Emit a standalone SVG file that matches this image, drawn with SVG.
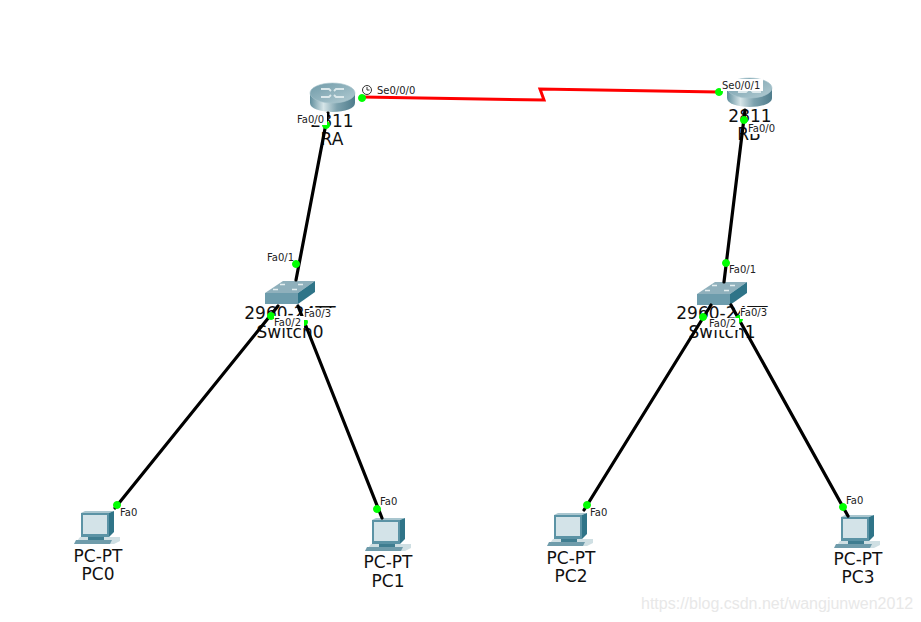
<svg xmlns="http://www.w3.org/2000/svg" width="921" height="622" viewBox="0 0 921 622">
<style>
.big{font-family:"DejaVu Sans","Liberation Sans",sans-serif;font-size:17px;fill:#111;text-anchor:middle}
.port{font-family:"DejaVu Sans","Liberation Sans",sans-serif;font-size:10px;fill:#222}
.box{fill:#fff}
.link{fill:none;stroke:#000;stroke-width:3.2;stroke-linecap:round}
.serial{fill:none;stroke:#f00;stroke-width:3;stroke-linejoin:miter}
.dot{fill:#0f0;stroke:#0f0}
.wm{font-family:"Liberation Sans",Arial,sans-serif;font-size:16px;fill:#e8e8e8}
</style>
<defs>
<linearGradient id="rb" x1="0" x2="1" y1="0" y2="0"><stop offset="0" stop-color="#5f8d9c"/><stop offset=".3" stop-color="#d6e5e8"/><stop offset=".6" stop-color="#7da2ae"/><stop offset="1" stop-color="#4f7c8c"/></linearGradient>
<linearGradient id="rt" x1="0" x2="1" y1="0" y2="1"><stop offset="0" stop-color="#6f9aa8"/><stop offset="1" stop-color="#b3ccd3"/></linearGradient>
<g id="router">
<path d="M0 10V20C0 25.500 10 29 22.500 29S45 25.500 45 20V10Z" fill="url(#rb)"/>
<ellipse cx="22.500" cy="10" rx="22.500" ry="10" fill="url(#rt)" stroke="#a8c4cc" stroke-width=".6"/>
<path d="M11 6h8l2 2M34 6h-8l-2 2M11 14h8l2-2M34 14h-8l-2-2" stroke="#dbe8eb" stroke-width="1.800" fill="none"/>
</g>
<g id="switch">
<path d="M0 12L18 0H50L33 12Z" fill="#8fb0bc"/>
<path d="M0 12H33V23H0Z" fill="#6d9cac"/>
<path d="M33 12L50 0V11L33 23Z" fill="#2f7488"/>
<path d="M15 3.500h5M33 3.500h5M8 8.500h5M27 8.500h5" stroke="#e4eef0" stroke-width="1.500"/>
</g>
<g id="pc">
<path d="M1 33L6 26H34L46 26L46 30L40 33Z" fill="#cfdfe3"/>
<path d="M2 29H38L36 33H0Z" fill="#6f9cab"/>
<path d="M7 2H35V26H7Z" fill="#5b93a5"/>
<path d="M7 2L11 0H40L35 2Z" fill="#a9c6cf"/>
<path d="M35 2L40 0V21L35 26Z" fill="#2f7488"/>
<path d="M9 4H33V23H9Z" fill="#d3e3e8"/>
<path d="M14 26H30V29H14Z" fill="#3f7d90"/>
</g>
</defs>
<rect width="921" height="622" fill="#fff"/>
<g id="RA"><use href="#router" x="310" y="83"/><text class="big" x="332" y="127">2811</text><text class="big" x="332" y="145">RA</text></g>
<g id="RB"><use href="#router" x="727" y="78"/><text class="big" x="750" y="122">2811</text><text class="big" x="749" y="140">RB</text></g>
<g id="Switch0"><use href="#switch" x="265" y="281"/><text class="big" x="290" y="319">2960-24TT</text><text class="big" x="290" y="338">Switch0</text></g>
<g id="Switch1"><use href="#switch" x="697" y="282"/><text class="big" x="722" y="319">2960-24TT</text><text class="big" x="722" y="338">Switch1</text></g>
<g id="PC0"><use href="#pc" x="74" y="511"/><text class="big" x="98" y="562">PC-PT</text><text class="big" x="98" y="580">PC0</text></g>
<g id="PC1"><use href="#pc" x="365" y="518"/><text class="big" x="388" y="568">PC-PT</text><text class="big" x="388" y="587">PC1</text></g>
<g id="PC2"><use href="#pc" x="547" y="513"/><text class="big" x="571" y="564">PC-PT</text><text class="big" x="571" y="582">PC2</text></g>
<g id="PC3"><use href="#pc" x="834" y="515"/><text class="big" x="858" y="565">PC-PT</text><text class="big" x="858" y="583">PC3</text></g>
<g id="connectors">
<path class="serial" d="M362 97L544 100L540 89L718 92"/>
<path class="link" d="M328 113L296 280"/>
<path class="link" d="M745 110L724 282"/>
<path class="link" d="M278 306L115 508"/>
<path class="link" d="M298 306L382 518"/>
<path class="link" d="M711 305L584 510"/>
<path class="link" d="M731 305L848 516"/>
<circle class="dot" cx="362" cy="98" r="3.500"/><circle class="dot" cx="719" cy="92" r="3.500"/>
<circle class="dot" cx="326" cy="125" r="3.500"/><circle class="dot" cx="744" cy="120" r="3.500"/>
<circle class="dot" cx="296" cy="264" r="3.500"/><circle class="dot" cx="726" cy="263" r="3.500"/>
<circle class="dot" cx="271" cy="316" r="3.500"/><circle class="dot" cx="304" cy="322" r="3.500"/>
<circle class="dot" cx="703" cy="317" r="3.500"/><circle class="dot" cx="739" cy="319" r="3.500"/>
<circle class="dot" cx="117" cy="505" r="3.500"/><circle class="dot" cx="377" cy="509" r="3.500"/>
<circle class="dot" cx="587" cy="505" r="3.500"/><circle class="dot" cx="843" cy="507" r="3.500"/>
</g>
<g id="labels">
<g fill="none" stroke="#333" stroke-width="1"><circle cx="367" cy="90" r="4.500"/><path d="M367 87v3h2.500"/></g>
<text class="port" x="377" y="94">Se0/0/0</text>
<rect class="box" x="296" y="113" width="31" height="12"/><text class="port" x="297" y="123">Fa0/0</text>
<rect class="box" x="721" y="79" width="42" height="12"/><text class="port" x="722" y="89">Se0/0/1</text>
<rect class="box" x="747" y="122" width="30" height="12"/><text class="port" x="748" y="132">Fa0/0</text>
<text class="port" x="267" y="261">Fa0/1</text>
<rect class="box" x="304" y="308" width="30" height="12"/><text class="port" x="304" y="317">Fa0/3</text>
<rect class="box" x="274" y="316" width="30" height="12"/><text class="port" x="274" y="326">Fa0/2</text>
<text class="port" x="729" y="273">Fa0/1</text>
<rect class="box" x="740" y="307" width="30" height="12"/><text class="port" x="740" y="316">Fa0/3</text>
<rect class="box" x="709" y="318" width="30" height="12"/><text class="port" x="709" y="327">Fa0/2</text>
<text class="port" x="120" y="516">Fa0</text>
<text class="port" x="380" y="505">Fa0</text>
<text class="port" x="590" y="516">Fa0</text>
<text class="port" x="846" y="504">Fa0</text>
</g>
<text class="wm" x="641" y="609">https://blog.csdn.net/wangjunwen2012</text>
</svg>
